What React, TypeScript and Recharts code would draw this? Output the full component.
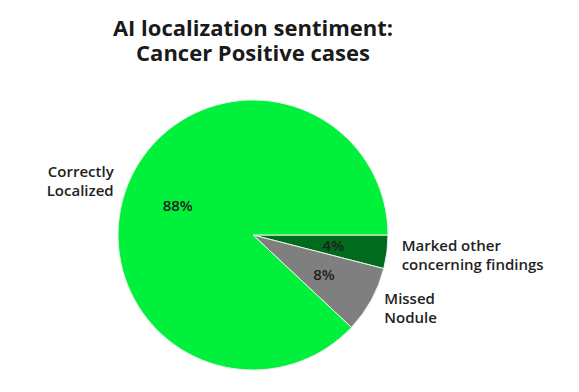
import React from "react";
import { PieChart, Pie, Cell } from "recharts";

// Slices go clockwise from 3 o'clock
const categories = ["Marked other concerning findings", "Missed Nodule", "Correctly Localized"];
const labelLines = [
  ["Marked other", "concerning findings"],
  ["Missed", "Nodule"],
  ["Correctly", "Localized"],
];
const shares = [4, 8, 88];
const colors = ["#006b1c", "#7f7f7f", "#00f03c"];

const data = categories.map((name, i) => ({ name, value: shares[i] }));

const RAD = Math.PI / 180;
const font = "'Open Sans', 'Noto Sans', sans-serif";

function renderLabel(props: any) {
  const { cx, cy, midAngle, outerRadius, index, value } = props;
  const cos = Math.cos(-midAngle * RAD);
  const sin = Math.sin(-midAngle * RAD);
  const rIn = outerRadius * 0.6;
  const rOut = outerRadius * 1.11;
  const ox = cx + rOut * cos;
  const oy = cy + rOut * sin;
  const lines = labelLines[index];
  return (
    <g>
      <text
        x={cx + rIn * cos}
        y={cy + rIn * sin}
        textAnchor="middle"
        dominantBaseline="central"
        fill="#1f1f1f"
        fontSize={15}
        fontWeight={600}
        fontFamily={font}
      >
        {value}%
      </text>
      <text
        x={ox}
        y={oy}
        textAnchor={cos >= 0 ? "start" : "end"}
        fill="#222"
        fontSize={15}
        fontWeight={600}
        fontFamily={font}
      >
        <tspan x={ox} dy={-9} dominantBaseline="central">{lines[0]}</tspan>
        <tspan x={ox} dy={19} dominantBaseline="central">{lines[1]}</tspan>
      </text>
    </g>
  );
}

const titleStyle: React.CSSProperties = {
  position: "absolute",
  left: 0,
  width: 506,
  textAlign: "center",
  fontFamily: font,
  fontWeight: 700,
  fontSize: 22,
  lineHeight: "24px",
  color: "#1a1a1a",
  whiteSpace: "nowrap",
};

export default function App() {
  return (
    <div style={{ position: "absolute", left: 0, top: 0, width: 579, height: 392, background: "#fff" }}>
      <div style={{ ...titleStyle, top: 15 }}>AI localization sentiment:</div>
      <div style={{ ...titleStyle, top: 40 }}>Cancer Positive cases</div>
      <PieChart width={579} height={392} margin={{ top: 0, right: 0, bottom: 0, left: 0 }}>
        <Pie
          data={data}
          dataKey="value"
          nameKey="name"
          cx={253}
          cy={235}
          outerRadius={135}
          startAngle={0}
          endAngle={-360}
          stroke="#e8f5e8"
          strokeWidth={1}
          label={renderLabel}
          labelLine={false}
          isAnimationActive={false}
        >
          {data.map((d, i) => (
            <Cell key={d.name} fill={colors[i]} />
          ))}
        </Pie>
      </PieChart>
    </div>
  );
}
